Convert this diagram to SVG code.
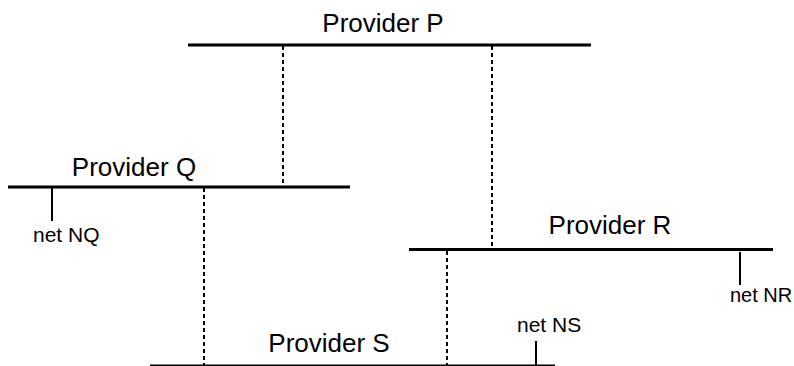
<svg xmlns="http://www.w3.org/2000/svg" width="794" height="366" viewBox="0 0 794 366">
<style>
.bus{stroke:#000;stroke-width:3;fill:none}
.link{stroke:#000;stroke-width:2;stroke-dasharray:4,3;fill:none}
.tick{stroke:#000;stroke-width:2;fill:none}
.big{font-family:"Liberation Sans",Arial,sans-serif;font-size:26px;fill:#000}
.small{font-family:"Liberation Sans",Arial,sans-serif;font-size:21px;fill:#000}
</style>
<rect width="794" height="366" fill="#fff"/>
<g id="connectors">
<line class="link" x1="283" y1="46" x2="283" y2="186"/>
<line class="link" x1="492" y1="46" x2="492" y2="248"/>
<line class="link" x1="204" y1="188" x2="204" y2="366"/>
<line class="link" x1="447" y1="251" x2="447" y2="366"/>
</g>
<g id="providerP">
<line class="bus" x1="188" y1="45" x2="591" y2="45"/>
<text class="big" x="383" y="32" text-anchor="middle">Provider P</text>
</g>
<g id="providerQ">
<line class="bus" x1="8" y1="187" x2="350" y2="187"/>
<text class="big" x="134" y="176" text-anchor="middle">Provider Q</text>
</g>
<g id="netNQ">
<line class="tick" x1="52" y1="188" x2="52" y2="221"/>
<text class="small" x="33" y="242">net NQ</text>
</g>
<g id="providerR">
<line class="bus" x1="409" y1="249.5" x2="773" y2="249.5"/>
<text class="big" x="610" y="234" text-anchor="middle">Provider R</text>
</g>
<g id="netNR">
<line class="tick" x1="740" y1="252" x2="740" y2="285"/>
<text class="small" x="730" y="302" style="font-size:20px">net NR</text>
</g>
<g id="providerS">
<line class="bus" x1="150" y1="366" x2="555" y2="366"/>
<text class="big" x="329" y="352" text-anchor="middle">Provider S</text>
</g>
<g id="netNS">
<line class="tick" x1="536" y1="341" x2="536" y2="366"/>
<text class="small" x="517" y="332">net NS</text>
</g>
</svg>
